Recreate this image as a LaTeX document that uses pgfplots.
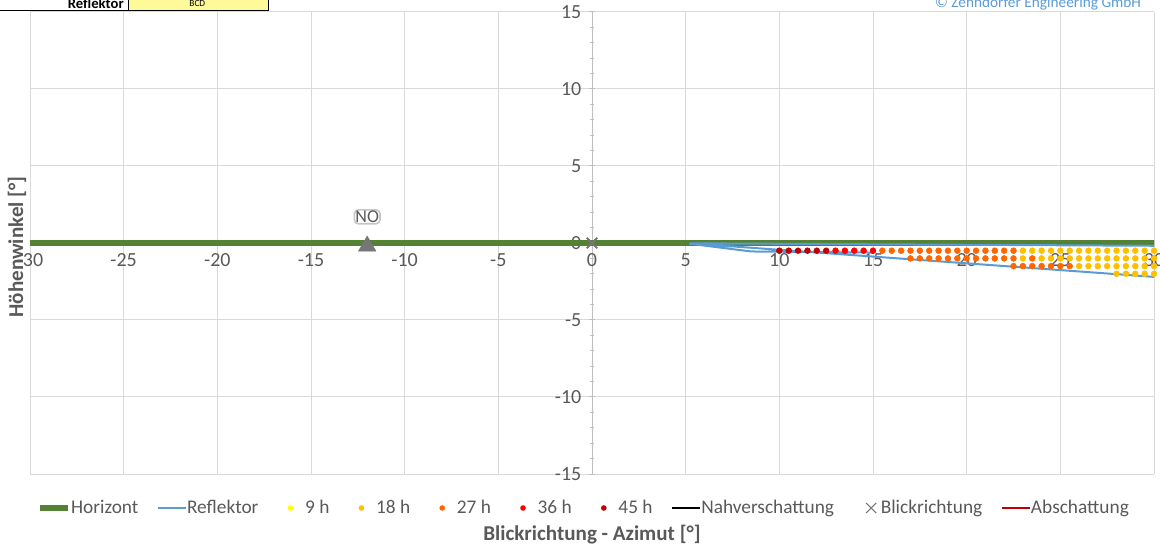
\documentclass[border=0pt]{standalone}
\usepackage{pgfplots}
\pgfplotsset{compat=1.18}
\usepackage{fontspec}
\setmainfont{Carlito}
\definecolor{hgreen}{RGB}{84,130,53}
\definecolor{rblue}{RGB}{91,155,213}
\definecolor{c9}{RGB}{255,255,0}
\definecolor{c18}{RGB}{255,192,0}
\definecolor{c27}{RGB}{255,102,0}
\definecolor{c36}{RGB}{255,0,0}
\definecolor{c45}{RGB}{192,0,0}
\definecolor{gridgray}{RGB}{217,217,217}
\definecolor{axisgray}{RGB}{191,191,191}
\definecolor{labelgray}{RGB}{89,89,89}
\definecolor{mgray}{RGB}{118,118,118}
\pgfplotsset{
  lineleg/.style={legend image code/.code={\draw[##1, line cap=butt] (0pt,0pt) -- (21pt,0pt);}},
  xleg/.style={legend image code/.code={\path[draw=none,fill=none] (0pt,-1pt) rectangle (21pt,1pt); \draw[mgray, line width=0.8pt] (10pt,-3.8pt) -- (17.6pt,3.8pt) (10pt,3.8pt) -- (17.6pt,-3.8pt);}},
}
\begin{document}
\begin{tikzpicture}
\begin{axis}[
  at={(22.5pt,59.25pt)}, anchor=south west,
  scale only axis, width=843pt, height=346.5pt,
  xmin=-30, xmax=30, ymin=-15, ymax=15,
  axis lines=middle,
  axis line style={draw=axisgray, line width=0.75pt, -},
  xtick={-30,-25,...,30}, ytick={-15,-10,...,15},
  minor y tick num=4,
  grid=major, major grid style={draw=gridgray, line width=0.75pt},
  tick style={draw=axisgray, line width=0.75pt},
  major tick length=5pt, minor tick length=3pt,
  hide obscured x ticks=false, hide obscured y ticks=false,
  ticklabel style={font=\fontsize{15}{16}\selectfont, text=labelgray},
  /pgf/number format/assume math mode=true,
  x tick label style={yshift=-2pt},
  y tick label style={xshift=-2pt},
  clip=false,
  legend style={at={(0.492,-0.0736)}, anchor=center, draw=none, fill=none,
    font=\fontsize{14.5}{16}\selectfont, text=labelgray,
    nodes={inner xsep=0pt, inner ysep=1pt},
    /tikz/every even column/.append style={column sep=14pt}},
  legend columns=-1,
  legend cell align=left,
]
% Horizont
\addplot[hgreen, line width=4.5pt, lineleg] coordinates {(-30,0) (30,0)};
\addlegendentry{Horizont}
% Reflektor
\addplot[rblue, line width=1.5pt, unbounded coords=jump, lineleg] coordinates {
  (5.2,-0.02) (30,-0.18)
  (5.2,nan)
  (5.2,-0.05) (8.5,-0.55) (15,-0.62)
  (5.2,nan)
  (5.2,-0.02) (30,-2.2)
};
\addlegendentry{Reflektor}
% 9 h
\addlegendimage{legend image code/.code={\path[draw=none,fill=none] (0pt,-1pt) rectangle (21pt,1pt); \path[draw=none,fill=c9] (10pt,0pt) circle (2.1pt);}}
\addlegendentry{9 h}
% 18 h
\addplot[only marks, mark=*, mark size=2.2pt, draw=c18, fill=c18,
  legend image code/.code={\path[draw=none,fill=none] (0pt,-1pt) rectangle (21pt,1pt); \path[draw=none,fill=c18] (10pt,0pt) circle (2.1pt);}] coordinates {
 (23,-0.5)(23.5,-0.5)(24,-0.5)(24.5,-0.5)(25,-0.5)(25.5,-0.5)(26,-0.5)(26.5,-0.5)(27,-0.5)(27.5,-0.5)(28,-0.5)(28.5,-0.5)(29,-0.5)(29.5,-0.5)(30,-0.5)
 (23,-1)(24,-1)(24.5,-1)(25,-1)(25.5,-1)(26,-1)(26.5,-1)(27,-1)(27.5,-1)(28,-1)(28.5,-1)(29,-1)(29.5,-1)(30,-1)
 (26,-1.5)(26.5,-1.5)(27,-1.5)(27.5,-1.5)(28,-1.5)(28.5,-1.5)(29,-1.5)(29.5,-1.5)(30,-1.5)
 (28,-2)(28.5,-2)(29,-2)(29.5,-2)(30,-2)
};
\addlegendentry{18 h}
\addplot[only marks, mark=*, mark size=2.2pt, draw=c27, fill=c27,
  legend image code/.code={\path[draw=none,fill=none] (0pt,-1pt) rectangle (21pt,1pt); \path[draw=none,fill=c27] (10pt,0pt) circle (2.1pt);}] coordinates {
 (15.5,-0.5)(16,-0.5)(16.5,-0.5)(17,-0.5)(17.5,-0.5)(18,-0.5)(18.5,-0.5)(19,-0.5)(19.5,-0.5)(20,-0.5)(20.5,-0.5)(21,-0.5)(21.5,-0.5)(22,-0.5)(22.5,-0.5)
 (17,-1)(17.5,-1)(18,-1)(18.5,-1)(19,-1)(19.5,-1)(20,-1)(20.5,-1)(21,-1)(21.5,-1)(22,-1)(22.5,-1)(23.5,-1)
 (22.5,-1.5)(23,-1.5)(23.5,-1.5)(24,-1.5)(24.5,-1.5)(25,-1.5)(25.5,-1.5)
};
\addlegendentry{27 h}
\addplot[only marks, mark=*, mark size=2.2pt, draw=c36, fill=c36,
  legend image code/.code={\path[draw=none,fill=none] (0pt,-1pt) rectangle (21pt,1pt); \path[draw=none,fill=c36] (10pt,0pt) circle (2.1pt);}] coordinates {
 (13,-0.5)(13.5,-0.5)(14,-0.5)(14.5,-0.5)(15,-0.5)
};
\addlegendentry{36 h}
\addplot[only marks, mark=*, mark size=2.2pt, draw=c45, fill=c45,
  legend image code/.code={\path[draw=none,fill=none] (0pt,-1pt) rectangle (21pt,1pt); \path[draw=none,fill=c45] (10pt,0pt) circle (2.1pt);}] coordinates {
 (10,-0.5)(10.5,-0.5)(11,-0.5)(11.5,-0.5)(12,-0.5)(12.5,-0.5)
};
\addlegendentry{45 h}
\addlegendimage{black, line width=1.5pt, lineleg}
\addlegendentry{Nahverschattung}
\addplot[only marks, mark=x, mark size=5.5pt, color=mgray, mark options={draw=mgray, line width=1.1pt}, xleg] coordinates {(0,0)};
\addlegendentry{Blickrichtung}
\addlegendimage{c45, line width=1.5pt, lineleg}
\addlegendentry{Abschattung}
% NO marker
\addplot[only marks, mark=triangle*, mark size=7.5pt, color=mgray, mark options={draw=mgray, fill=mgray}, forget plot] coordinates {(-12,-0.2)};
\node[font=\fontsize{13.5}{15}\selectfont, text=labelgray, fill=white, draw=gray!45, line width=1.2pt, rounded corners=3pt, inner sep=0.8pt] at (axis cs:-12,1.7) {NO};
% view direction mark on top
\addplot[only marks, mark=x, mark size=5.5pt, color=mgray, mark options={draw=mgray, line width=1.1pt}, forget plot] coordinates {(0,0)};
\end{axis}
% axis titles
\node[rotate=90, font=\bfseries\fontsize{15.8}{17}\selectfont, text=labelgray] at (12.75pt,229.5pt) {Höhenwinkel [°]};
\node[font=\bfseries\fontsize{15.8}{17}\selectfont, text=labelgray] at (444pt,13.5pt) {Blickrichtung - Azimut [°]};
% header (cut off at the top)
\fill[yellow!40!white] (96pt,406.5pt) rectangle (201pt,420pt);
\draw[black, line width=0.75pt] (0pt,406.5pt) -- (201pt,406.5pt);
\draw[black, line width=0.75pt] (96pt,406.5pt) -- (96pt,420pt);
\draw[black, line width=0.75pt] (201pt,406.5pt) -- (201pt,420pt);
\node[anchor=base east, font=\bfseries\fontsize{11}{13}\selectfont, inner sep=0pt] at (93pt,408.2pt) {Reflektor};
\node[anchor=base, font=\fontsize{7}{8}\selectfont, inner sep=0pt] at (148pt,410pt) {BCD};
\node[anchor=base east, font=\fontsize{11.5}{13}\selectfont, text=rblue, inner sep=0pt] at (856pt,409pt) {© Zehndorfer Engineering GmbH};
\pgfresetboundingbox
\path[use as bounding box] (0pt,0pt) rectangle (870pt,414.75pt);
\end{tikzpicture}
\end{document}
